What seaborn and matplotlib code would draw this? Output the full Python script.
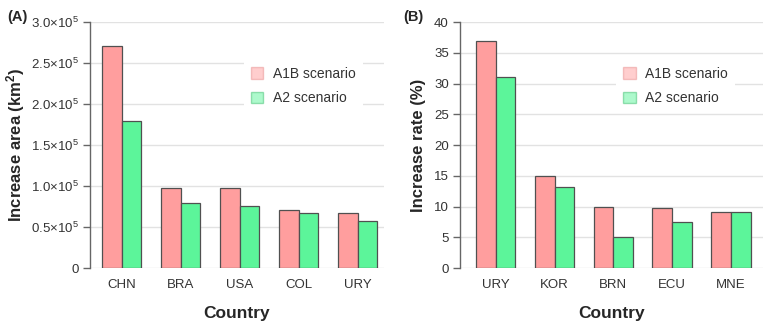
import pandas as pd
import matplotlib
matplotlib.use('Agg')
import matplotlib.pyplot as plt
import matplotlib.patches as mpatches
import seaborn as sns

# data
countries_a = ['CHN', 'BRA', 'USA', 'COL', 'URY']
a1b_area = [2.71e5, 0.98e5, 0.98e5, 0.705e5, 0.67e5]
a2_area = [1.79e5, 0.79e5, 0.755e5, 0.67e5, 0.57e5]

countries_b = ['URY', 'KOR', 'BRN', 'ECU', 'MNE']
a1b_rate = [36.9, 15.0, 10.0, 9.7, 9.1]
a2_rate = [31.0, 13.1, 5.0, 7.5, 9.1]

scenarios = ['A1B scenario', 'A2 scenario']
area_ticks = [0, 0.5e5, 1.0e5, 1.5e5, 2.0e5, 2.5e5, 3.0e5]
area_ticklabels = ['0'] + [f'{t / 1e5:.1f}' + r'$\times$10$^{5}$' for t in area_ticks[1:]]
rate_ticks = [0, 5, 10, 15, 20, 25, 30, 35, 40]

sns.set_style('white')
plt.rcParams['font.family'] = ['Liberation Sans', 'DejaVu Sans']
plt.rcParams['mathtext.fontset'] = 'custom'
plt.rcParams['mathtext.rm'] = 'Liberation Sans'
plt.rcParams['mathtext.default'] = 'regular'

colors = {'A1B scenario': '#ff9e9e', 'A2 scenario': '#5cf59a'}
edges = {'A1B scenario': '#e89090', 'A2 scenario': '#3fbf70'}


def long_df(countries, s1, s2):
    return pd.DataFrame({
        'country': countries * 2,
        'value': list(s1) + list(s2),
        'scenario': [scenarios[0]] * len(countries) + [scenarios[1]] * len(countries),
    })


fig = plt.figure(figsize=(7.69, 3.29), dpi=100)
ax_a = fig.add_axes([0.1170, 0.1854, 0.3823, 0.7477])
ax_b = fig.add_axes([0.5982, 0.1854, 0.3940, 0.7477])

panels = [
    (ax_a, long_df(countries_a, a1b_area, a2_area), countries_a, (0, 3e5), area_ticks,
     area_ticklabels, 'Increase area (km$^{2}$)', (-0.537, 4.446), (0.50, 0.875), 3),
    (ax_b, long_df(countries_b, a1b_rate, a2_rate), countries_b, (0, 40), rate_ticks,
     [str(t) for t in rate_ticks], 'Increase rate (%)', (-0.607, 4.544), (0.493, 0.875), 6),
]

for ax, df, order, ylim, yticks, yticklabels, ylabel, xlim, leg_pos, ypad in panels:
    sns.barplot(data=df, x='country', y='value', hue='scenario', order=order,
                hue_order=scenarios, palette=colors, saturation=1, width=0.67,
                edgecolor='#505050', linewidth=0.9, ax=ax, legend=False)
    ax.set_xlim(*xlim)
    ax.set_ylim(*ylim)
    ax.set_yticks(yticks)
    ax.set_yticklabels(yticklabels)
    ax.yaxis.grid(True, color='#e2e2e2', lw=1)
    ax.set_axisbelow(True)
    for s in ['top', 'right', 'bottom']:
        ax.spines[s].set_visible(False)
    ax.spines['left'].set_color('#666666')
    ax.spines['left'].set_linewidth(1)
    ax.tick_params(axis='y', left=True, length=5, width=1, color='#666666',
                   labelsize=9.5, labelcolor='#333333', pad=3)
    ax.tick_params(axis='x', length=0, labelsize=9.5, labelcolor='#333333', pad=8)
    ax.set_xlabel('Country', fontsize=12.5, fontweight='bold', labelpad=11)
    ax.set_ylabel(ylabel, fontsize=12, fontweight='bold', labelpad=ypad)

    handles = [mpatches.Patch(facecolor=colors[s], edgecolor=edges[s], alpha=0.5, label=s)
               for s in scenarios]
    leg = ax.legend(handles=handles, loc='upper left', bbox_to_anchor=leg_pos,
                    frameon=True, fancybox=False, edgecolor='none', facecolor='white',
                    framealpha=1, fontsize=10, handlelength=0.9, handleheight=0.9,
                    handletextpad=0.7, labelspacing=0.75, borderpad=0.5)
    for t in leg.get_texts():
        t.set_color('#333333')

fig.text(0.009, 1 - 17 / 329, '(A)', fontsize=10.5, fontweight='bold', va='center')
fig.text(0.524, 1 - 17 / 329, '(B)', fontsize=10.5, fontweight='bold', va='center')

fig.savefig('out.png', dpi=100)
